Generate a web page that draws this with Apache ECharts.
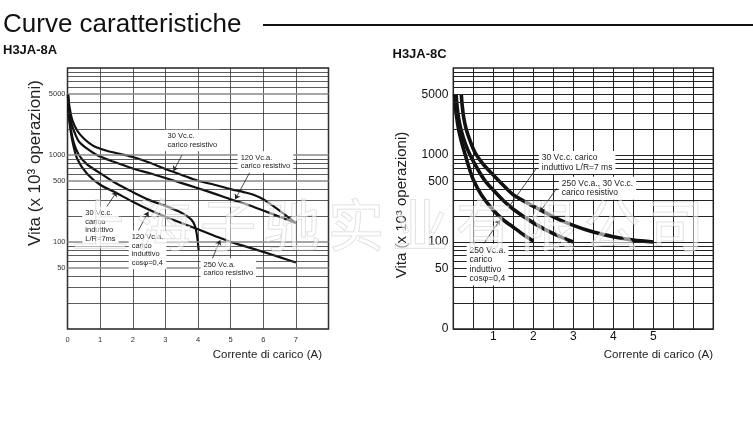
<!DOCTYPE html>
<html><head><meta charset="utf-8">
<script src="https://cdn.jsdelivr.net/npm/echarts@6/dist/echarts.min.js"></script>
<style>html,body{margin:0;padding:0;background:#fff}#c{width:753px;height:438px}</style>
</head><body><div id="c"></div>
<script>
const FONT = '"Liberation Sans", Arial, Helvetica, sans-serif';

// ---------- shared log grid (values of the horizontal grid lines) ----------
const gridValues = [20,30,40,50,60,70,80,90,100,200,300,400,500,600,700,800,900,1000,2000,3000,4000,5000,6000,7000,8000,9000];

// ---------- Left chart: H3JA-8A ----------
const leftXTicks = [0,1,2,3,4,5,6,7];
const leftYTickValues = [5000,1000,500,100,50];
const leftYTickLabels = ['5000','1000','500','100','50'];

const l30dcResX = [0.015,0.06,0.15,0.3,0.5,0.8,1.2,1.6,2.0,2.5,3.0,3.5,4.0,4.5,5.0,5.4,5.7,6.0,6.3,6.6,7.0];
const l30dcResV = [5000,3600,2500,1900,1550,1270,1120,1030,950,820,690,590,505,455,405,375,350,310,260,215,165];

const l120acResX = [0.015,0.05,0.12,0.22,0.35,0.6,0.9,1.4,2.0,2.5,3.0,3.5,4.0,4.5,5.0,5.5,6.0,6.5,7.0];
const l120acResV = [5000,3300,2300,1800,1430,1180,1000,840,700,620,545,475,415,360,310,270,230,195,165];

const l120acIndX = [0.015,0.04,0.1,0.2,0.35,0.6,1.0,1.5,2.0,2.5,3.0,3.4,3.65,3.8,3.9,3.96,4.0,4.02];
const l120acIndV = [5000,3000,2000,1350,1000,780,620,470,375,305,260,225,200,180,155,125,95,80];

const l250acResX = [0.015,0.03,0.08,0.15,0.3,0.6,1.0,1.5,2.0,2.5,3.0,3.5,4.0,4.5,5.0,5.5,6.0,6.5,7.0];
const l250acResV = [5000,3200,2100,1450,900,610,455,365,290,235,195,165,140,118,100,88,77,67,58];

const leftLabels = [
  {x:2.96, v:1468, text:'30 Vc.c.\ncarico resistivo'},
  {x:5.2,  v:832,  text:'120 Vc.a.\ncarico resistivo'},
  {x:0.44, v:153,  text:'30 Vc.c.\ncarico\ninduttivo\nL/R=7ms'},
  {x:1.86, v:81,   text:'120 Vc.a.\ncarico\ninduttivo\ncosφ=0,4'},
  {x:4.06, v:49,   text:'250 Vc.a.\ncarico resistivo'}
];
const leftArrows = [
  [[3.51,1000],[3.25,655]],
  [[5.6,643],[5.14,310]],
  [[1.10,223],[1.51,378]],
  [[2.07,115],[2.48,223]],
  [[4.42,62],[4.68,105]]
];

// ---------- Right chart: H3JA-8C ----------
const rightXTicks = [1,2,3,4,5];
const rightYTickValues = [5000,1000,500,100,50,10];
const rightYTickLabels = ['5000','1000','500','100','50','0'];

const rResX = [0.2,0.22,0.26,0.32,0.42,0.55,0.75,1.0,1.25,1.5,2.0,2.5,3.0,3.5,4.0,4.5,5.0];
const rResV = [5000,3800,2700,2000,1450,1050,780,590,450,350,258,195,155,130,115,105,100];

const rDcIndX = [0.07,0.09,0.13,0.2,0.3,0.42,0.6,0.8,1.0,1.25,1.5,2.0,2.5,3.0];
const rDcIndV = [5000,3800,2700,1900,1350,1000,700,500,395,300,238,166,125,100];

const rAcIndX = [0.03,0.05,0.08,0.13,0.2,0.3,0.4,0.5,0.7,1.0,1.25,1.5,1.75,2.0];
const rAcIndV = [5000,3800,2800,2000,1450,1000,700,520,350,232,180,148,122,102];

const rightLabels = [
  {x:2.125, v:820, text:'30 Vc.c. carico\ninduttivo L/R=7 ms'},
  {x:2.625, v:414, text:'250 Vc.a., 30 Vc.c.\ncarico resistivo'},
  {x:0.32,  v:55,  text:'250 Vc.a.\ncarico\ninduttivo\ncosφ=0,4'}
];
const rightArrows = [
  [[2.08,703],[1.37,246]],
  [[2.585,414],[2.17,223]],
  [[0.72,90],[1.17,179]]
];

const watermark = '上海子驰实业有限公司';

// ---------- helpers ----------
const zip = (xs, vs) => xs.map((x, i) => [x, vs[i]]);

function gridSeries(idx, tickVals, tickLabels, opts) {
  const data = gridValues.concat(tickVals.filter(v => gridValues.indexOf(v) < 0)).map(v => {
    const k = tickVals.indexOf(v);
    const item = {yAxis: v};
    if (k >= 0) {
      item.label = {show: true, formatter: tickLabels[k]};
      if (opts.tickLine) item.lineStyle = opts.tickLine;
    }
    return item;
  });
  return {
    type: 'line', xAxisIndex: idx, yAxisIndex: idx, data: [], z: 1, silent: true,
    markLine: {
      silent: true, animation: false, symbol: ['none','none'],
      lineStyle: {type: 'solid', color: opts.color, width: opts.width},
      label: {show: false, position: 'start', distance: opts.dist, fontSize: opts.fs, color: opts.labelColor, fontFamily: FONT},
      emphasis: {disabled: true},
      data: data
    }
  };
}
function curve(idx, xs, vs, w) {
  return {
    type: 'line', xAxisIndex: idx, yAxisIndex: idx, data: zip(xs, vs),
    symbol: 'none', showSymbol: false, smooth: 0.3,
    lineStyle: {color: '#111', width: w}, z: 3, silent: true
  };
}
function annot(idx, labels, arrows, fs, lh) {
  return {
    type: 'line', xAxisIndex: idx, yAxisIndex: idx, data: [], z: 4, silent: true,
    markLine: {
      silent: true, animation: false, symbol: ['none','arrow'], symbolSize: 5,
      lineStyle: {type: 'solid', color: '#222', width: 0.8},
      label: {show: false}, emphasis: {disabled: true},
      data: arrows.map(a => [{coord: a[0]}, {coord: a[1]}])
    },
    markPoint: {
      silent: true, animation: false, symbol: 'rect', symbolSize: 1,
      itemStyle: {color: 'rgba(0,0,0,0)'},
      emphasis: {disabled: true},
      label: {show: true, position: 'right', distance: 0, color: '#222', fontSize: fs, lineHeight: lh,
              fontFamily: FONT, backgroundColor: '#fff', padding: [2, 3], align: 'left'},
      data: labels.map(l => ({coord: [l.x, l.v], value: 0, label: {formatter: l.text}}))
    }
  };
}

const chart = echarts.init(document.getElementById('c'), null, {renderer: 'canvas'});

const graphics = [
  {type: 'text', x: 3, y: 25, z: 10, style: {text: 'Curve caratteristiche', fontSize: 26, fontFamily: FONT, fill: '#111', verticalAlign: 'middle'}},
  {type: 'line', z: 10, shape: {x1: 263, y1: 25, x2: 753, y2: 25}, style: {stroke: '#111', lineWidth: 2}},
  {type: 'text', x: 3, y: 50.5, z: 10, style: {text: 'H3JA-8A', fontSize: 13, fontWeight: 'bold', fontFamily: FONT, fill: '#111', verticalAlign: 'middle'}},
  {type: 'text', x: 392.5, y: 54, z: 10, style: {text: 'H3JA-8C', fontSize: 13, fontWeight: 'bold', fontFamily: FONT, fill: '#111', verticalAlign: 'middle'}},
  {type: 'text', x: 35, y: 163, rotation: Math.PI / 2, z: 10, style: {text: 'Vita (x 10³ operazioni)', fontSize: 17, fontFamily: FONT, fill: '#222', align: 'center', verticalAlign: 'middle'}},
  {type: 'text', x: 402, y: 205, rotation: Math.PI / 2, z: 10, style: {text: 'Vita (x 10³ operazioni)', fontSize: 15, fontFamily: FONT, fill: '#222', align: 'center', verticalAlign: 'middle'}},
  {type: 'text', x: 322, y: 355, z: 10, style: {text: 'Corrente di carico (A)', fontSize: 11.5, fontFamily: FONT, fill: '#222', align: 'right', verticalAlign: 'middle'}},
  {type: 'text', x: 713, y: 355, z: 10, style: {text: 'Corrente di carico (A)', fontSize: 11.5, fontFamily: FONT, fill: '#222', align: 'right', verticalAlign: 'middle'}}
];
Array.from(watermark).forEach((ch, i) => {
  graphics.push({type: 'text', x: 100 + i * 64, y: 225, z: 100, silent: true,
    style: {text: ch, fontSize: 56, fontFamily: '"Noto Sans CJK SC", sans-serif', fill: 'rgba(255,255,255,0.55)',
            stroke: 'rgba(175,175,175,0.5)', lineWidth: 1, align: 'center', verticalAlign: 'middle'}});
});

chart.setOption({
  animation: false,
  backgroundColor: '#fff',
  grid: [
    {left: 67.5, top: 68, width: 261, height: 261, show: true, borderColor: '#222', borderWidth: 1.5, backgroundColor: 'transparent'},
    {left: 453.3, top: 68, width: 260, height: 261, show: true, borderColor: '#222', borderWidth: 1.5, backgroundColor: 'transparent'}
  ],
  xAxis: [
    {gridIndex: 0, type: 'value', min: 0, max: 8, interval: 1,
     axisLine: {show: false}, axisTick: {show: false},
     splitLine: {show: true, lineStyle: {color: '#333', width: 0.8}},
     axisLabel: {formatter: v => leftXTicks.indexOf(v) >= 0 ? String(v) : '', fontSize: 7.5, color: '#333', margin: 6.5, fontFamily: FONT}},
    {gridIndex: 1, type: 'value', min: 0, max: 6.5, interval: 0.5,
     axisLine: {show: false}, axisTick: {show: false},
     splitLine: {show: true, lineStyle: {color: '#222', width: 1}},
     axisLabel: {formatter: v => rightXTicks.indexOf(v) >= 0 ? String(v) : '', fontSize: 12, color: '#111', margin: 2, fontFamily: FONT}}
  ],
  yAxis: [
    {gridIndex: 0, type: 'log', logBase: 10, min: 10, max: 10000,
     axisLine: {show: false}, axisTick: {show: false}, axisLabel: {show: false}, splitLine: {show: false}},
    {gridIndex: 1, type: 'log', logBase: 10, min: 10, max: 10000,
     axisLine: {show: false}, axisTick: {show: false}, axisLabel: {show: false}, splitLine: {show: false}}
  ],
  graphic: graphics,
  series: [
    gridSeries(0, leftYTickValues, leftYTickLabels, {color: '#333', width: 0.8, dist: 2, fs: 7.5, labelColor: '#333', tickLine: {color: '#888', width: 1.6}}),
    curve(0, l30dcResX, l30dcResV, 2.2),
    curve(0, l120acResX, l120acResV, 2.2),
    curve(0, l120acIndX, l120acIndV, 2.2),
    curve(0, l250acResX, l250acResV, 2.2),
    annot(0, leftLabels, leftArrows, 7.5, 8.7),
    gridSeries(1, rightYTickValues, rightYTickLabels, {color: '#222', width: 1, dist: 5, fs: 12, labelColor: '#111'}),
    curve(1, rResX, rResV, 3.6),
    curve(1, rDcIndX, rDcIndV, 3.6),
    curve(1, rAcIndX, rAcIndV, 3.6),
    annot(1, rightLabels, rightArrows, 8.5, 9.5)
  ]
});
</script></body></html>
